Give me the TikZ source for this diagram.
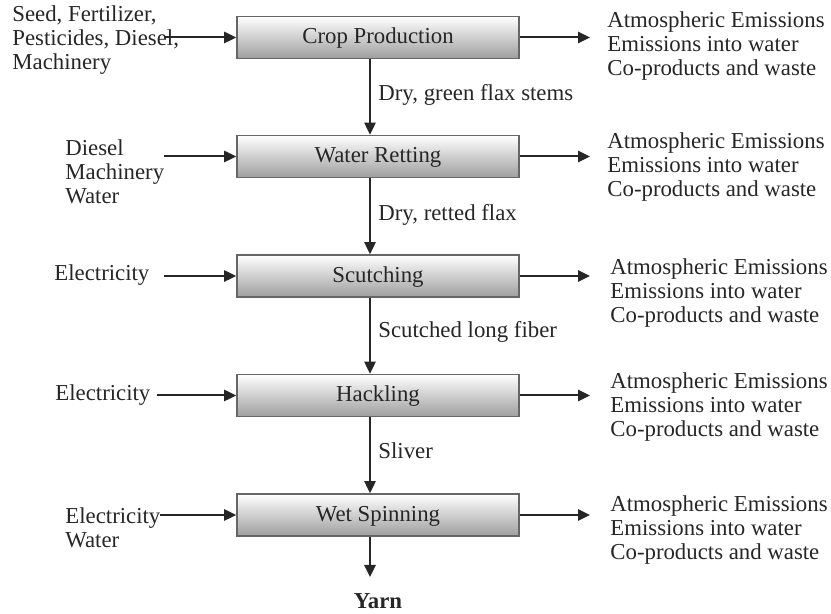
\documentclass[tikz,border=0pt]{standalone}
\usepackage{fontspec}
\setmainfont{Liberation Serif}
\usetikzlibrary{arrows.meta}
\begin{document}
\begin{tikzpicture}[x=0.5pt,y=-0.5pt,
  every node/.style={font=\fontsize{11.4}{12}\selectfont, text=black!85},
  stage/.style={draw=black!60, line width=0.8pt, top color=white, bottom color=black!38,
    minimum width=141pt, minimum height=21pt, inner sep=0pt,
    text height=0.82em, text depth=0.2em},
  txt/.style={anchor=west, align=left, inner sep=0pt},
  flow/.style={draw=black!85, line width=1pt, -{Triangle[length=6pt,width=5.6pt]}}
]
\useasboundingbox (0,0) rectangle (831,614);

% process stages
\node[stage] (crop)  at (378,37.5)  {Crop Production};
\node[stage] (ret)   at (378,156.5) {Water Retting};
\node[stage] (scu)   at (378,276)   {Scutching};
\node[stage] (hack)  at (378,395.5) {Hackling};
\node[stage] (spin)  at (378,515)   {Wet Spinning};

% x position of the main product stream
\coordinate (vx) at (370,0);

% inputs
\node[txt] (incrop) at (12,40)   {Seed, Fertilizer,\\Pesticides, Diesel,\\Machinery};
\node[txt] (inret)  at (65,172)  {Diesel\\Machinery\\Water};
\node[txt] (inscu)  at (54,275)  {Electricity};
\node[txt] (inhack) at (55,395)  {Electricity};
\node[txt] (inspin) at (65,527.5){Electricity\\Water};

\coordinate (a1) at (165,37.5);
\coordinate (a2) at (164,156.5);
\coordinate (a3) at (164,276);
\coordinate (a4) at (157,395.5);
\coordinate (a5) at (160,515);
\draw[flow] (a1) -- (crop.west);
\draw[flow] (a2) -- (ret.west);
\draw[flow] (a3) -- (scu.west);
\draw[flow] (a4) -- (hack.west);
\draw[flow] (a5) -- (spin.west);

% outputs
\foreach \n/\y/\ty/\tx in {crop/37.5/46/607, ret/156.5/167/607, scu/276/293/610, hack/395.5/407/610, spin/515/530/610}{
  \coordinate (out-\n) at (590,\y);
  \draw[flow] (\n.east) -- (out-\n);
  \node[txt] (em-\n) at (\tx,\ty) {Atmospheric Emissions\\Emissions into water\\Co-products and waste};
}

% main stream
\draw[flow] (crop.south -| vx) -- (ret.north -| vx);
\draw[flow] (ret.south -| vx)  -- (scu.north -| vx);
\draw[flow] (scu.south -| vx)  -- (hack.north -| vx);
\draw[flow] (hack.south -| vx) -- (spin.north -| vx);
\coordinate (yend) at (370,577);
\draw[flow] (spin.south -| vx) -- (yend);
\node[font=\fontsize{11.4}{12}\selectfont\bfseries, inner sep=1pt] (yarn) at (378,601) {Yarn};

% stream labels
\node[txt] (l1) at (378,95)  {Dry, green flax stems};
\node[txt] (l2) at (378,215) {Dry, retted flax};
\node[txt] (l3) at (378,332) {Scutched long fiber};
\node[txt] (l4) at (378,451) {Sliver};
\end{tikzpicture}
\end{document}
